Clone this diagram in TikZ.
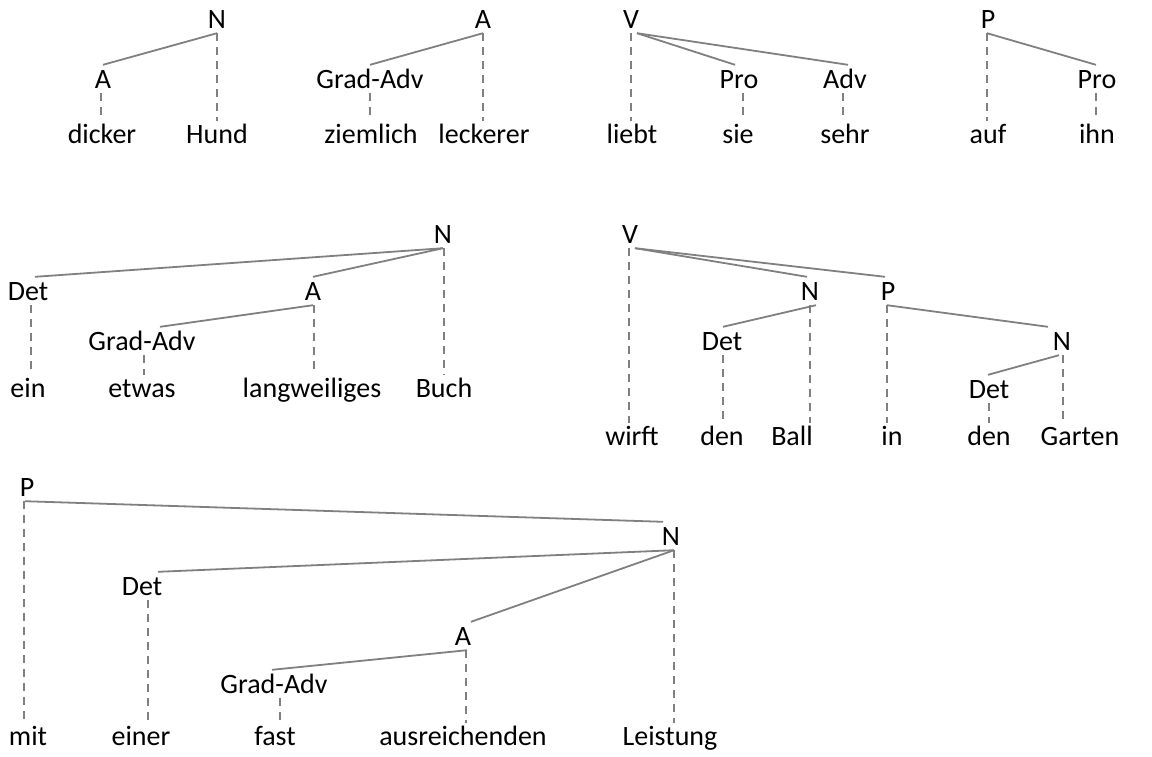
\documentclass[tikz,border=0pt]{standalone}
\usepackage{fontspec}
\setmainfont{Carlito}
\usetikzlibrary{calc}
\definecolor{linegray}{RGB}{128,128,128}
\tikzset{
  treefont/.style={font=\fontsize{28}{32}\selectfont},
  cat/.style={treefont, anchor=base, inner xsep=0pt, inner ysep=5pt, text height=18pt, text depth=0pt},
  word/.style={treefont, anchor=base, inner xsep=0pt, inner ysep=2pt, text height=20pt, text depth=0pt},
  br/.style={draw=linegray, line width=1.8pt},
  dep/.style={draw=linegray, line width=1.8pt, dash pattern=on 8pt off 6pt},
}
\begin{document}
\begin{tikzpicture}[x=1pt, y=-1pt]
\useasboundingbox (0,0) rectangle (1152,756);

% --- dicker Hund ---
\node[cat] (aN) at (217,28) {N};
\node[cat] (aA) at (103,88) {A};
\node[word] (aw1) at (102,143) {dicker};
\node[word] (aw2) at (217,143) {Hund};
\draw[br] (aN.south) -- (aA.north);
\draw[dep] (aN.south) -- (aN.south |- aw2.north);
\draw[dep] ([xshift=-2pt]aA.south) -- ([xshift=-2pt]aA.south |- aw1.north);

% --- ziemlich leckerer ---
\node[cat] (bA) at (483,28) {A};
\node[cat] (bG) at (370,88) {Grad-Adv};
\node[word] (bw1) at (371,143) {ziemlich};
\node[word] (bw2) at (484,143) {leckerer};
\draw[br] (bA.south) -- (bG.north);
\draw[dep] (bA.south) -- (bA.south |- bw2.north);
\draw[dep] (bG.south) -- (bG.south |- bw1.north);

% --- liebt sie sehr ---
\node[cat] (cV) at (631,28) {V};
\node[cat] (cP) at (739,88) {Pro};
\node[cat] (cA) at (845,88) {Adv};
\node[word] (cw1) at (632,143) {liebt};
\node[word] (cw2) at (738,143) {sie};
\node[word] (cw3) at (845,143) {sehr};
\draw[br] ([xshift=6pt]cV.south) -- ([xshift=-4pt]cP.north);
\draw[br] ([xshift=6pt]cV.south) -- ([xshift=3pt]cA.north);
\draw[dep] (cV.south) -- (cV.south |- cw1.north);
\draw[dep] ([xshift=4pt]cP.south) -- ([xshift=4pt]cP.south |- cw2.north);
\draw[dep] ([xshift=-2pt]cA.south) -- ([xshift=-2pt]cA.south |- cw3.north);

% --- auf ihn ---
\node[cat] (dP) at (988,28) {P};
\node[cat] (dR) at (1097,88) {Pro};
\node[word] (dw1) at (988,143) {auf};
\node[word] (dw2) at (1097,143) {ihn};
\draw[br] ([xshift=-1pt]dP.south) -- ([xshift=-1pt]dR.north);
\draw[dep] ([xshift=-1pt]dP.south) -- ([xshift=-1pt]dP.south |- dw1.north);
\draw[dep] ([xshift=-1pt]dR.south) -- ([xshift=-1pt]dR.south |- dw2.north);

% --- ein etwas langweiliges Buch ---
\node[cat] (eN) at (443,243) {N};
\node[cat] (eD) at (28,300) {Det};
\node[cat] (eA) at (313,300) {A};
\node[cat] (eG) at (142,350) {Grad-Adv};
\node[word] (ew1) at (28,397) {ein};
\node[word] (ew2) at (142,397) {etwas};
\node[word] (ew3) at (312,397) {langweiliges};
\node[word] (ew4) at (444,397) {Buch};
\draw[br] (eN.south) -- ([xshift=7pt]eD.north);
\draw[br] (eN.south) -- (eA.north);
\draw[br] (eA.south) -- ([xshift=18pt]eG.north);
\draw[dep] ([xshift=1pt]eN.south) -- ([xshift=1pt]eN.south |- ew4.north);
\draw[dep] ([xshift=3pt]eD.south) -- ([xshift=3pt]eD.south |- ew1.north);
\draw[dep] ([xshift=1pt]eA.south) -- ([xshift=1pt]eA.south |- ew3.north);
\draw[dep] ([xshift=2pt]eG.south) -- ([xshift=2pt]eG.south |- ew2.north);

% --- wirft den Ball in den Garten ---
\node[cat] (fV) at (630,243) {V};
\node[cat] (fN) at (810,300) {N};
\node[cat] (fP) at (888,300) {P};
\node[cat] (fD) at (722,350) {Det};
\node[cat] (fM) at (1062,350) {N};
\node[cat] (fE) at (989,398) {Det};
\node[word] (fw1) at (632,445) {wirft};
\node[word] (fw2) at (722,445) {den};
\node[word] (fw3) at (792,445) {Ball};
\node[word] (fw4) at (892,445) {in};
\node[word] (fw5) at (989,445) {den};
\node[word] (fw6) at (1080,445) {Garten};
\draw[br] ([xshift=5pt]fV.south) -- ([xshift=-3pt]fN.north);
\draw[br] ([xshift=5pt]fV.south) -- ([xshift=-3pt]fP.north);
\draw[br] ([xshift=6pt]fN.south) -- ([xshift=1pt]fD.north);
\draw[br] ([xshift=-1pt]fP.south) -- ([xshift=-14pt]fM.north);
\draw[br] ([xshift=-3pt]fM.south) -- ([xshift=-1pt]fE.north);
\draw[dep] ([xshift=-1pt]fV.south) -- ([xshift=-1pt]fV.south |- fw1.north);
\draw[dep] (fN.south) -- (fN.south |- fw3.north);
\draw[dep] ([xshift=1pt]fD.south) -- ([xshift=1pt]fD.south |- fw2.north);
\draw[dep] ([xshift=-1pt]fP.south) -- ([xshift=-1pt]fP.south |- fw4.north);
\draw[dep] ([xshift=1pt]fM.south) -- ([xshift=1pt]fM.south |- fw6.north);
\draw[dep] (fE.south) -- (fE.south |- fw5.north);

% --- mit einer fast ausreichenden Leistung ---
\node[cat] (gP) at (27,496) {P};
\node[cat] (gN) at (671,545) {N};
\node[cat] (gD) at (142,595) {Det};
\node[cat] (gA) at (463,645) {A};
\node[cat] (gG) at (274,693) {Grad-Adv};
\node[word] (gw1) at (28,745) {mit};
\node[word] (gw2) at (141,745) {einer};
\node[word] (gw3) at (275,745) {fast};
\node[word] (gw4) at (463,745) {ausreichenden};
\node[word] (gw5) at (670,745) {Leistung};
\draw[br] ([xshift=-2pt]gP.south) -- ([xshift=-8pt]gN.north);
\draw[br] ([xshift=3pt]gN.south) -- ([xshift=16pt]gD.north);
\draw[br] ([xshift=3pt]gN.south) -- ([xshift=8pt]gA.north);
\draw[br] ([xshift=4pt]gA.south) -- ([xshift=-2pt]gG.north);
\draw[dep] ([xshift=-3pt]gP.south) -- ([xshift=-3pt]gP.south |- gw1.north);
\draw[dep] ([xshift=3pt]gN.south) -- ([xshift=3pt]gN.south |- gw5.north);
\draw[dep] ([xshift=6pt]gD.south) -- ([xshift=6pt]gD.south |- gw2.north);
\draw[dep] ([xshift=3pt]gA.south) -- ([xshift=3pt]gA.south |- gw4.north);
\draw[dep] ([xshift=6pt]gG.south) -- ([xshift=6pt]gG.south |- gw3.north);
\end{tikzpicture}
\end{document}
